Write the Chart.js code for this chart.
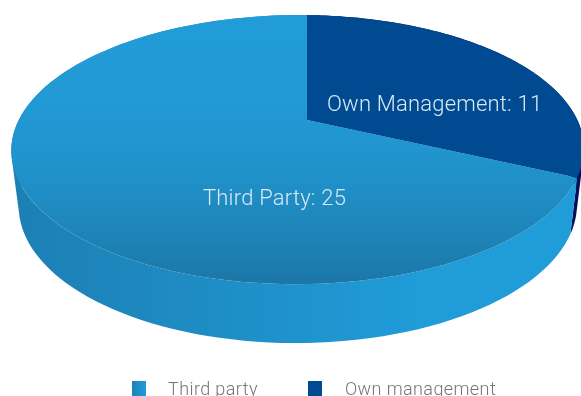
<!DOCTYPE html>
<html>
<head>
<meta charset="utf-8">
<title>Management</title>
<script src="https://cdn.jsdelivr.net/npm/chart.js@4"></script>
<style>
    html, body { margin: 0; padding: 0; background: #fff; overflow: hidden; }
    canvas { display: block; }
</style>
</head>
<body>
<canvas id="pieChart" width="581" height="396"></canvas>
<script>
// ==== data ====
const legendNames = ["Third party", "Own management"];
const sliceNames = ["Third Party", "Own Management"];
const sliceValues = [25, 11];

const topColors = ["#2095cf", "#004a91"];
const sideColors = ["#1f90c9", "#060f5c"];
const legendX = [132, 308];
const legendTextX = [168, 345];
const labelPos = [[203, 205], [327, 111]];

// perspective of the two faces (apex = where the slices meet)
const topFace = { ax: 307, ay: 120, c: 279, s: 128, q: 0.22, r: 0.032 };
const bottomFace = { ax: 307, ay: 175, c: 272, s: 131, q: 0.22, r: 0.032 };
const twist = 0.065;

// circle point of the pie -> point on the tilted disc
function project(face, angle) {
    const b = angle + twist * (1 + Math.sin(angle));
    const x = Math.cos(b), y = Math.sin(b);
    const w = 1 - face.q * y + face.r * x;
    return [face.ax + face.c * x / w, face.ay + face.s * y / w];
}

function arcPoints(face, start, end) {
    const pts = [];
    for (let i = 0; i <= 120; i++) {
        pts.push(project(face, start + (end - start) * i / 120));
    }
    return pts;
}

function tracePath(ctx, pts) {
    pts.forEach((p, i) => i ? ctx.lineTo(p[0], p[1]) : ctx.moveTo(p[0], p[1]));
    ctx.closePath();
}

function fillPath(ctx, pts, style) {
    ctx.beginPath();
    tracePath(ctx, pts);
    ctx.fillStyle = style;
    ctx.fill();
}

// all quads turned the same way so the non-zero fill never cancels
function areaOf(pts) {
    let sum = 0;
    pts.forEach((p, i) => {
        const n = pts[(i + 1) % pts.length];
        sum += p[0] * n[1] - n[0] * p[1];
    });
    return sum;
}

function gradient(ctx, x0, y0, x1, y1, stops) {
    const g = ctx.createLinearGradient(x0, y0, x1, y1);
    stops.forEach(s => g.addColorStop(s[0], s[1]));
    return g;
}

const pie3d = {
    id: "pie3d",
    beforeDatasetDraw(chart) {
        const ctx = chart.ctx;
        const arcs = chart.getDatasetMeta(0).data;

        const sideBlue = gradient(ctx, 20, 0, 560, 0, [[0, "#1c80b4"], [0.52, "#1f93cd"], [0.74, "#209cd9"], [1, "#209cd9"]]);
        const topBlue = gradient(ctx, 0, 15, 0, 285, [[0, "#229cd8"], [0.315, "#219ad6"], [0.574, "#2092cb"], [0.8, "#1e85b9"], [1, "#1c76a7"]]);

        // sides first, dark slice under the blue one
        [1, 0].forEach(i => {
            const a = arcs[i];
            const upper = arcPoints(topFace, a.startAngle, a.endAngle);
            const lower = arcPoints(bottomFace, a.startAngle, a.endAngle);
            ctx.beginPath();
            for (let k = 0; k < upper.length - 1; k++) {
                const quad = [upper[k], upper[k + 1], lower[k + 1], lower[k]];
                tracePath(ctx, areaOf(quad) < 0 ? quad.reverse() : quad);
            }
            ctx.fillStyle = i === 0 ? sideBlue : sideColors[i];
            ctx.fill();
        });

        // top face
        [0, 1].forEach(i => {
            const a = arcs[i];
            const pts = arcPoints(topFace, a.startAngle, a.endAngle);
            pts.push([topFace.ax, topFace.ay]);
            fillPath(ctx, pts, i === 0 ? topBlue : topColors[i]);
        });
        return false;
    },
    afterDraw(chart) {
        const ctx = chart.ctx;
        ctx.save();
        ctx.textBaseline = "alphabetic";
        ctx.textAlign = "left";

        // slice labels
        ctx.font = "300 22px Roboto";
        ctx.letterSpacing = "0.2px";
        ctx.fillStyle = "#d6e9f5";
        sliceNames.forEach((name, i) => {
            ctx.fillText(name + ": " + sliceValues[i], labelPos[i][0], labelPos[i][1]);
        });

        // legend
        ctx.font = "300 18px Roboto";
        ctx.letterSpacing = "0.4px";
        legendNames.forEach((name, i) => {
            const x = legendX[i];
            ctx.fillStyle = i === 0
                ? gradient(ctx, x, 0, x + 14, 0, [[0, "#1c82b8"], [1, "#219cd9"]])
                : topColors[i];
            ctx.fillRect(x, 381, 14, 15);
            ctx.fillStyle = "#757575";
            ctx.fillText(name, legendTextX[i], 395);
        });
        ctx.restore();
    }
};

new Chart(document.getElementById("pieChart"), {
    type: "pie",
    data: {
        labels: legendNames,
        datasets: [{
            data: sliceValues,
            backgroundColor: topColors
        }]
    },
    options: {
        responsive: false,
        animation: false,
        rotation: 360 * sliceValues[1] / (sliceValues[0] + sliceValues[1]),
        plugins: {
            legend: { display: false },
            tooltip: { enabled: false }
        }
    },
    plugins: [pie3d]
});
</script>
</body>
</html>
